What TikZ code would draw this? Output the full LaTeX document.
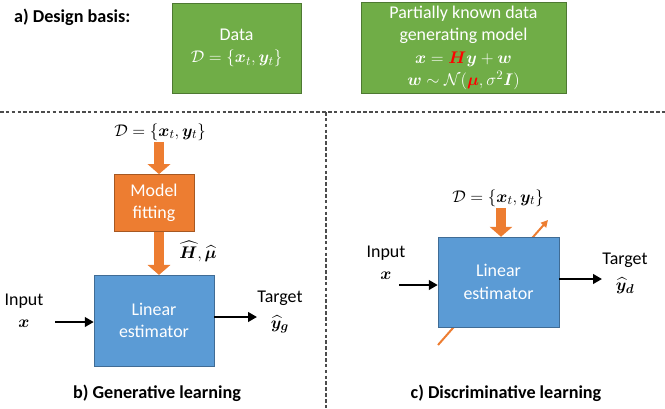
\documentclass[tikz,border=0pt]{standalone}
\usepackage{amsmath,amssymb,bm}
\usepackage{xcolor}
\usepackage{fontspec}
\setmainfont{Carlito}
\usepackage{tikz}
\usetikzlibrary{arrows.meta,positioning,calc}

\definecolor{boxgreen}{HTML}{70AD47}
\definecolor{boxorange}{HTML}{ED7D31}
\definecolor{boxblue}{HTML}{5B9BD5}

\begin{document}
\begin{tikzpicture}[
    x=0.03cm, y=-0.03cm,
    font=\fontsize{15.3}{19}\selectfont,
    node distance=1cm,
    given/.style={rectangle, draw=boxgreen!70!black, fill=boxgreen, text=white, align=center, minimum height=2.7cm},
    fitter/.style={rectangle, draw=boxorange!70!black, fill=boxorange, text=white, align=center, minimum width=2.4cm, minimum height=1.71cm},
    estim/.style={rectangle, draw=boxblue!70!black, fill=boxblue, text=white, align=center, minimum width=3.6cm, minimum height=2.72cm},
    lbl/.style={align=center, inner sep=1pt},
    caption/.style={font=\fontsize{15.5}{19}\selectfont\bfseries},
    fat/.style={boxorange, line width=8.5pt, -{Triangle[length=8.5pt, width=19pt]}},
    slim/.style={boxorange, line width=1.7pt, -{Triangle[length=6pt, width=6pt]}},
    arrow/.style={line width=2.4pt, -{Triangle[length=7.5pt, width=8pt]}},
    divider/.style={gray!60!black, line width=0.9pt, dash pattern=on 3pt off 2pt}
]
\useasboundingbox (0,0) rectangle (665,408);

% Design basis
\node[caption, anchor=west] (title) at (10,17) {a) Design basis:};
\node[given, minimum width=3.87cm] (data) at (236.5,48) {Data\\$\mathcal{D}=\{\bm{x}_t,\bm{y}_t\}$};
\node[given, minimum width=6.15cm] (model) at (463.5,48) {Partially known data\\generating model\\
    $\bm{x}=\textcolor{red}{\bm{H}}\bm{y}+\bm{w}$\\
    $\bm{w}\sim\mathcal{N}(\textcolor{red}{\bm{\mu}},\sigma^2\bm{I})$};

% Dividers
\draw[divider] (0,112) -- (665,112);
\draw[divider] (326,112) -- (326,408);

% Generative learning
\node[estim] (linb) at (154,320.5) {Linear\\estimator};
\node[fitter, above=1.3cm of linb] (fit) {Model\\fitting};
\node[lbl] (datab) at (160,132) {$\mathcal{D}=\{\bm{x}_t,\bm{y}_t\}$};
\node[lbl] (par) at (198,251) {$\widehat{\bm{H}},\widehat{\bm{\mu}}$};
\node[lbl] (inb) at (24,311) {Input\\$\bm{x}$};
\node[lbl] (outb) at (280,312) {Target\\[3pt]$\widehat{\bm{y}}_{\bm{g}}$};
\coordinate (xinb) at (55,322);
\coordinate (youtb) at (257,317);
\node[caption] (capb) at (157,393) {b) Generative learning};

\draw[fat] (datab.south -| 159,0) -- (fit.north -| 159,0);
\draw[fat] (fit.south -| 159,0) -- (linb.north -| 159,0);
\draw[arrow] (xinb) -- (xinb -| linb.west);
\draw[arrow] (youtb -| linb.east) -- (youtb);

% Discriminative learning
\coordinate (sfrom) at (438,345);
\coordinate (sto) at (548,220);
\draw[slim] (sfrom) -- (sto);
\node[estim, minimum width=3.63cm, minimum height=2.7cm] (linc) at (498.5,282) {Linear\\estimator};
\node[lbl] (datac) at (498,198) {$\mathcal{D}=\{\bm{x}_t,\bm{y}_t\}$};
\node[lbl] (inc) at (386,263) {Input\\$\bm{x}$};
\node[lbl] (outc) at (625,273) {Target\\[3pt]$\widehat{\bm{y}}_{\bm{d}}$};
\coordinate (xinc) at (399,285);
\coordinate (youtc) at (602,279);
\node[caption] (capc) at (506,393) {c) Discriminative learning};

\draw[fat] (datac.south -| 501,0) -- (linc.north -| 501,0);
\draw[arrow] (xinc) -- (xinc -| linc.west);
\draw[arrow] (youtc -| linc.east) -- (youtc);

\end{tikzpicture}
\end{document}
